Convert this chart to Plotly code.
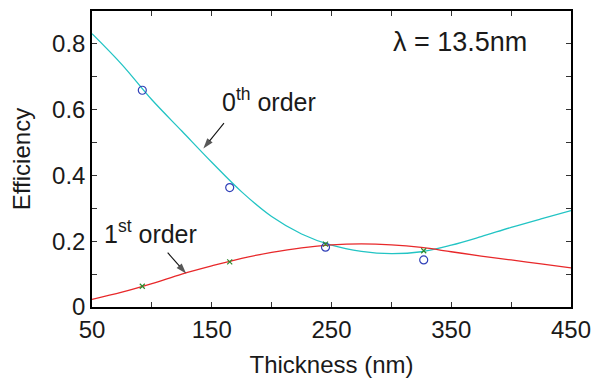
import plotly.graph_objects as go

# Simulated curves (thickness in nm)
thickness = [50, 75, 100, 125, 150, 175, 200, 225, 250, 275, 300, 325, 350, 375, 400, 425, 450]
order0_sim = [0.831, 0.737, 0.630, 0.535, 0.440, 0.350, 0.275, 0.222, 0.188, 0.169, 0.162, 0.168, 0.188, 0.214, 0.242, 0.268, 0.293]
order1_sim = [0.023, 0.045, 0.071, 0.100, 0.125, 0.148, 0.166, 0.180, 0.189, 0.192, 0.189, 0.181, 0.168, 0.155, 0.143, 0.131, 0.119]

# Measured points
meas_x = [92, 165, 245, 327]
order0_meas = [0.659, 0.363, 0.182, 0.143]
order1_meas = [0.063, 0.137, 0.191, 0.171]

x_tick_step = 100
x_minor_step = 50
y_tick_step = 0.2
y_minor_step = 0.1

FONT = "Liberation Sans, Arial, sans-serif"
TXT = "#1a1a1a"

fig = go.Figure()
fig.add_trace(go.Scatter(x=thickness, y=order0_sim, mode="lines",
                         line=dict(color="#22c4c4", width=1.3, shape="spline", smoothing=1.0), showlegend=False))
fig.add_trace(go.Scatter(x=thickness, y=order1_sim, mode="lines",
                         line=dict(color="#e8282a", width=1.3, shape="spline", smoothing=1.0), showlegend=False))
fig.add_trace(go.Scatter(x=meas_x, y=order0_meas, mode="markers",
                         marker=dict(symbol="circle-open", size=8, color="#3040b8", line=dict(width=1.2)), showlegend=False))
fig.add_trace(go.Scatter(x=meas_x, y=order1_meas, mode="markers",
                         marker=dict(symbol="x-thin-open", size=5, color="#2e8b2e", line=dict(width=1.2)), showlegend=False))

annos = [
    dict(x=157.0, y=0.630, text="0<sup>th</sup> order", xanchor="left", yanchor="middle", font_size=25),
    dict(x=58.5, y=0.228, text="1<sup>st</sup> order", xanchor="left", yanchor="middle", font_size=25),
    dict(x=300.0, y=0.806, text="λ = 13.5nm", xanchor="left", yanchor="middle", font_size=27),
]
for a in annos:
    fig.add_annotation(showarrow=False, font=dict(family=FONT, color=TXT, size=a.pop("font_size")), **a)

# Label pointer arrows (tail -> head, in data coordinates)
arrows = [((160.2, 0.559), (143.0, 0.482)), ((113.2, 0.165), (128.6, 0.102))]
for (tx, ty), (hx, hy) in arrows:
    fig.add_trace(go.Scatter(x=[tx, hx], y=[ty, hy], mode="lines+markers",
                             line=dict(color="#111111", width=1.1),
                             marker=dict(symbol="arrow", size=[0, 11], angleref="previous", color="#111111",
                                         line=dict(width=0)),
                             showlegend=False, hoverinfo="skip"))

axis_common = dict(showline=True, linecolor="black", linewidth=1.5, mirror="ticks", ticks="inside",
                   ticklen=5, tickcolor="#333333", showgrid=False, zeroline=False, automargin=False,
                   tickfont=dict(family=FONT, size=24, color=TXT))

fig.update_xaxes(range=[50, 450], tick0=50, dtick=x_tick_step,
                 minor=dict(dtick=x_minor_step, tick0=50, ticks="inside", ticklen=5, tickcolor="#333333", showgrid=False),
                 title=dict(text="Thickness (nm)", font=dict(family=FONT, size=24, color=TXT), standoff=15),
                 **axis_common)
fig.update_yaxes(range=[0, 0.9], tick0=0, dtick=y_tick_step,
                 minor=dict(dtick=y_minor_step, tick0=0, ticks="inside", ticklen=5, tickcolor="#333333", showgrid=False),
                 title=dict(text="Efficiency", font=dict(family=FONT, size=24, color=TXT), standoff=15),
                 **axis_common)

fig.update_layout(width=598, height=382, margin=dict(l=92, r=27, t=11, b=75),
                  plot_bgcolor="white", paper_bgcolor="white", font=dict(family=FONT))

fig.write_html("out.html", config={"displayModeBar": False},
               post_script="document.body.style.margin='0';")
